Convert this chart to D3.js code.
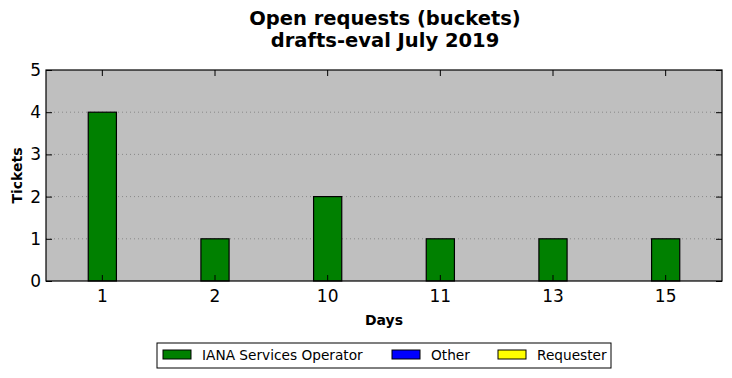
<!DOCTYPE html>
<html>
<head>
<meta charset="utf-8">
<script src="https://cdn.jsdelivr.net/npm/d3@7"></script>
<style>
  body { margin: 0; background: #fff; }
  svg { font-family: "DejaVu Sans", sans-serif; }
</style>
</head>
<body>
<div id="chart"></div>
<script>
const days = ['1', '2', '10', '11', '13', '15'];
const ianaOperator = [4, 1, 2, 1, 1, 1];
const other = [0, 0, 0, 0, 0, 0];
const requester = [0, 0, 0, 0, 0, 0];
const yTicks = [0, 1, 2, 3, 4, 5];

const series = [
    { name: 'IANA Services Operator', values: ianaOperator, color: '#008000' },
    { name: 'Other', values: other, color: '#0000ff' },
    { name: 'Requester', values: requester, color: '#ffff00' }
];

const WIDTH = 732;
const HEIGHT = 378;
const LEFT = 46, RIGHT = 722, TOP = 70, BOTTOM = 281;

const svg = d3.select('#chart')
    .append('svg')
    .attr('width', WIDTH)
    .attr('height', HEIGHT);

// Scales
const xScale = d3.scaleBand()
    .domain(days)
    .range([LEFT, RIGHT]);

const yScale = d3.scaleLinear()
    .domain([0, 5])
    .range([BOTTOM, TOP]);

// Plot background
svg.append('rect')
    .attr('x', LEFT).attr('y', TOP)
    .attr('width', RIGHT - LEFT).attr('height', BOTTOM - TOP)
    .attr('fill', '#bfbfbf');

// Grid
svg.append('g')
    .selectAll('line')
    .data(yTicks.slice(1, -1))
    .enter()
    .append('line')
    .attr('x1', LEFT).attr('x2', RIGHT)
    .attr('y1', d => yScale(d)).attr('y2', d => yScale(d))
    .attr('stroke', '#888')
    .attr('stroke-width', 1)
    .attr('stroke-dasharray', '1,3');

// Bars (stacked)
const barW = xScale.bandwidth() * 0.25;
days.forEach((day, i) => {
    let base = 0;
    series.forEach(s => {
        const v = s.values[i];
        if (v > 0) {
            svg.append('rect')
                .attr('x', xScale(day) + xScale.bandwidth() / 2 - barW / 2)
                .attr('y', yScale(base + v))
                .attr('width', barW)
                .attr('height', yScale(base) - yScale(base + v))
                .attr('fill', s.color)
                .attr('stroke', '#000')
                .attr('stroke-width', 1.2);
        }
        base += v;
    });
});

// Axes
const xAxis = d3.axisBottom(xScale).tickSizeInner(-6).tickSizeOuter(0).tickPadding(9);
svg.append('g')
    .attr('class', 'x-axis')
    .attr('transform', `translate(0, ${BOTTOM})`)
    .call(xAxis);

const xAxisTop = d3.axisTop(xScale).tickSizeInner(-6).tickSizeOuter(0).tickFormat('');
svg.append('g')
    .attr('transform', `translate(0, ${TOP})`)
    .call(xAxisTop);

const yAxis = d3.axisLeft(yScale).tickValues(yTicks).tickFormat(d3.format('d'))
    .tickSizeInner(-6).tickSizeOuter(0).tickPadding(5);
svg.append('g')
    .attr('class', 'y-axis')
    .attr('transform', `translate(${LEFT}, 0)`)
    .call(yAxis);

const yAxisRight = d3.axisRight(yScale).tickValues(yTicks).tickSizeInner(-6).tickSizeOuter(0).tickFormat('');
svg.append('g')
    .attr('transform', `translate(${RIGHT}, 0)`)
    .call(yAxisRight);

svg.selectAll('.domain').remove();
svg.selectAll('.tick line').attr('stroke', '#000');
svg.selectAll('.tick text')
    .attr('font-family', '"DejaVu Sans", sans-serif')
    .attr('font-size', 17)
    .attr('fill', '#000');

// Frame
svg.append('rect')
    .attr('x', LEFT).attr('y', TOP)
    .attr('width', RIGHT - LEFT).attr('height', BOTTOM - TOP)
    .attr('fill', 'none')
    .attr('stroke', '#000')
    .attr('stroke-width', 1.2);

// Titles
svg.append('text')
    .attr('x', 385).attr('y', 25)
    .attr('text-anchor', 'middle')
    .attr('font-size', 19.5).attr('font-weight', 'bold')
    .text('Open requests (buckets)');
svg.append('text')
    .attr('x', 385).attr('y', 47)
    .attr('text-anchor', 'middle')
    .attr('font-size', 19.5).attr('font-weight', 'bold')
    .text('drafts-eval July 2019');

svg.append('text')
    .attr('x', 384).attr('y', 325)
    .attr('text-anchor', 'middle')
    .attr('font-size', 14).attr('font-weight', 'bold')
    .text('Days');

svg.append('text')
    .attr('transform', `translate(22, ${(TOP + BOTTOM) / 2}) rotate(-90)`)
    .attr('text-anchor', 'middle')
    .attr('font-size', 14).attr('font-weight', 'bold')
    .text('Tickets');

// Legend
const legend = svg.append('g');
legend.append('rect')
    .attr('x', 157).attr('y', 343)
    .attr('width', 454).attr('height', 25)
    .attr('fill', '#fff')
    .attr('stroke', '#000')
    .attr('stroke-width', 1);

const legendX = [163, 392, 498];
series.forEach((s, i) => {
    legend.append('rect')
        .attr('x', legendX[i]).attr('y', 350)
        .attr('width', 28).attr('height', 9)
        .attr('fill', s.color)
        .attr('stroke', '#000')
        .attr('stroke-width', 1);
    legend.append('text')
        .attr('x', legendX[i] + 39).attr('y', 360)
        .attr('font-size', 13.7)
        .text(s.name);
});
</script>
</body>
</html>
